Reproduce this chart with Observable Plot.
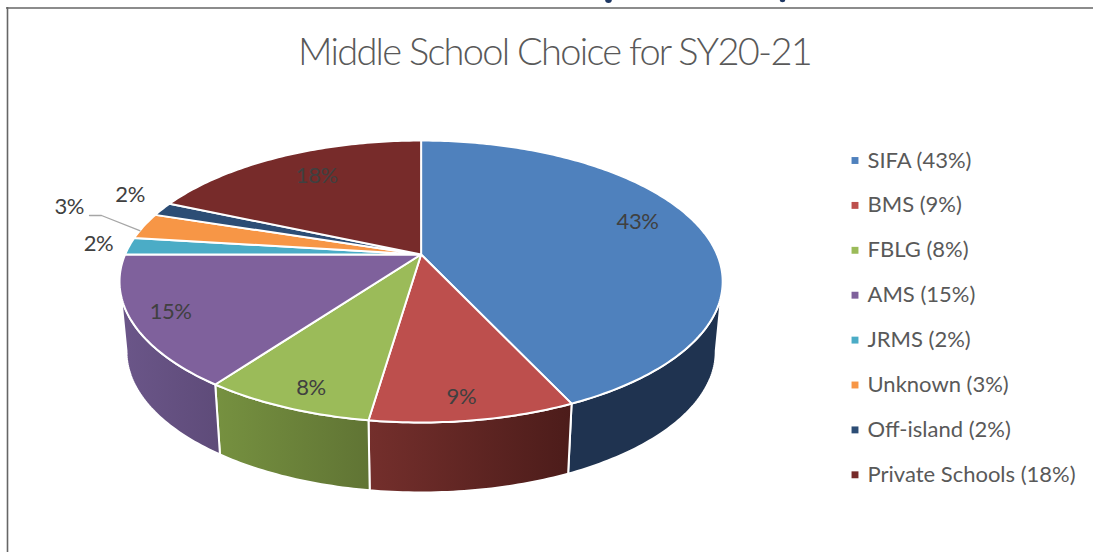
<!DOCTYPE html>
<html>
<head>
<meta charset="utf-8">
<script src="https://cdn.jsdelivr.net/npm/d3@7"></script>
<script src="https://cdn.jsdelivr.net/npm/@observablehq/plot@0.6"></script>
<style>
html,body{margin:0;padding:0;background:#fff;overflow:hidden}
svg{display:block}
.chart-title text{letter-spacing:-1.72px}
.slice-label text{letter-spacing:-0.4px}
</style>
</head>
<body>
<div id="chart"></div>
<script>
const schools = ["SIFA","BMS","FBLG","AMS","JRMS","Unknown","Off-island","Private Schools"];
const shares = [43.1,9.2,7.7,15,2,3,1.6,18.4];
const sliceLabels = ["43%","9%","8%","15%","2%","3%","2%","18%"];
const legendLabels = ["SIFA (43%)","BMS (9%)","FBLG (8%)","AMS (15%)","JRMS (2%)","Unknown (3%)","Off-island (2%)","Private Schools (18%)"];
const colors = ["#4f81bd","#bd4f4d","#9bbb59","#7f619c","#4bacc6","#f79646","#2c4d75","#772b2a"];
const sideColors = [["#1f3350","#1f3350"],["#742f2c","#4c1c1a"],["#769140","#607434"],["#6b5689","#5e4b79"]];
const labelTurns = [0.199,0.4794,0.5578,0.6767,0.7618,0.796,0.817,0.9133];
const labelRadii = [0.808,0.8785,0.8823,0.8744,1.11,1.33,1.176,0.765];

// perspective view of the pie disc
const cx = 420.6, cy = 254, A = 296, B = 135.8, K = 0.1915;
const baseScale = 0.977, baseDrop = 70;
function project(turn, r = 1, base = false) {
  const th = turn * 2 * Math.PI, t = r * Math.sin(th), s = -r * Math.cos(th), w = 1 - K * s;
  const X = A * t / w, Y = B * s / w;
  return base ? [cx + baseScale * X, cy + Y + baseDrop] : [cx + X, cy + Y];
}
const total = d3.sum(shares);
const ends = d3.cumsum(shares).map(v => v / total);
const starts = ends.map((e, i) => i ? ends[i - 1] : 0);
const arcTurns = (a, b) => { const n = Math.max(2, Math.ceil((b - a) * 400)); return d3.range(n + 1).map(i => a + (b - a) * i / n); };

const tops = schools.flatMap((name, i) => {
  const ring = arcTurns(starts[i], ends[i]).map(u => project(u));
  return [[cx, cy], ...ring].map(([x, y]) => ({name, x, y}));
});
const sideRanges = [[0.28, ends[0]], [starts[1], ends[1]], [starts[2], ends[2]], [starts[3], 0.72]];
const sideMarks = sideRanges.map(([a, b], i) => {
  const turns = arcTurns(a, b);
  const pts = [...turns.map(u => project(u)), ...turns.slice().reverse().map(u => project(u, 1, true))]
    .map(([x, y]) => ({x, y}));
  return Plot.line(pts, {x: "x", y: "y", curve: "linear-closed", fill: `url(#side${i})`, stroke: "white", strokeWidth: 2});
});
const defsMark = () => {
  const defs = d3.create("svg:defs");
  sideColors.forEach((c, i) => {
    const g = defs.append("linearGradient").attr("id", `side${i}`);
    g.append("stop").attr("offset", "0%").attr("stop-color", c[0]);
    g.append("stop").attr("offset", "100%").attr("stop-color", c[1]);
  });
  return defs.node();
};
const sliceText = sliceLabels.map((label, i) => {
  const [x, y] = project(labelTurns[i], labelRadii[i]);
  return {label, x, y};
});
const legendRows = legendLabels.map((label, i) => ({label, name: schools[i], y: 160 + i * 44.9}));
const leaderEnd = project((starts[5] + ends[5]) / 2 - 0.006);
const leader = [{x: 89, y: 215}, {x: 101, y: 215}, {x: leaderEnd[0], y: leaderEnd[1]}];

const font = "Lato, 'Open Sans', sans-serif";
const plot = Plot.plot({
  width: 1093, height: 552, margin: 0,
  x: {domain: [0, 1093], range: [0, 1093], axis: null},
  y: {domain: [0, 552], range: [0, 552], axis: null},
  color: {domain: schools, range: colors},
  style: {background: "#fff", fontFamily: font},
  marks: [
    defsMark,
    // descenders of a heading cropped away above the chart frame
    Plot.dot([608, 782], {x: d => d, y: () => -1, r: (d, i) => i ? 2.5 : 3.6, fill: "#1f3864", stroke: "none"}),
    Plot.ruleY([7.5], {x1: 6, x2: 1093, stroke: "#666", strokeWidth: 1.6}),
    Plot.ruleX([7], {y1: 7, y2: 552, stroke: "#666", strokeWidth: 1.6}),
    ...sideMarks,
    Plot.line(tops, {x: "x", y: "y", z: "name", fill: "name", curve: "linear-closed", stroke: "white", strokeWidth: 2}),
    Plot.line(leader, {x: "x", y: "y", stroke: "#a6a6a6", strokeWidth: 1.3}),
    Plot.text(sliceText, {x: "x", y: "y", text: "label", fill: "#404040", fontSize: 22, fontWeight: 400, className: "slice-label"}),
    Plot.text(["Middle School Choice for SY20-21"], {x: () => 554, y: () => 52, text: d => d, fill: "#595959", fontSize: 38, fontWeight: 300, className: "chart-title"}),
    Plot.dot(legendRows, {x: () => 854.5, y: "y", symbol: "square", r: 3.9, fill: "name"}),
    Plot.text(legendRows, {x: () => 867, y: "y", text: "label", textAnchor: "start", fill: "#595959", fontSize: 22, fontWeight: 400})
  ]
});
document.getElementById("chart").append(plot);
</script>
</body>
</html>
